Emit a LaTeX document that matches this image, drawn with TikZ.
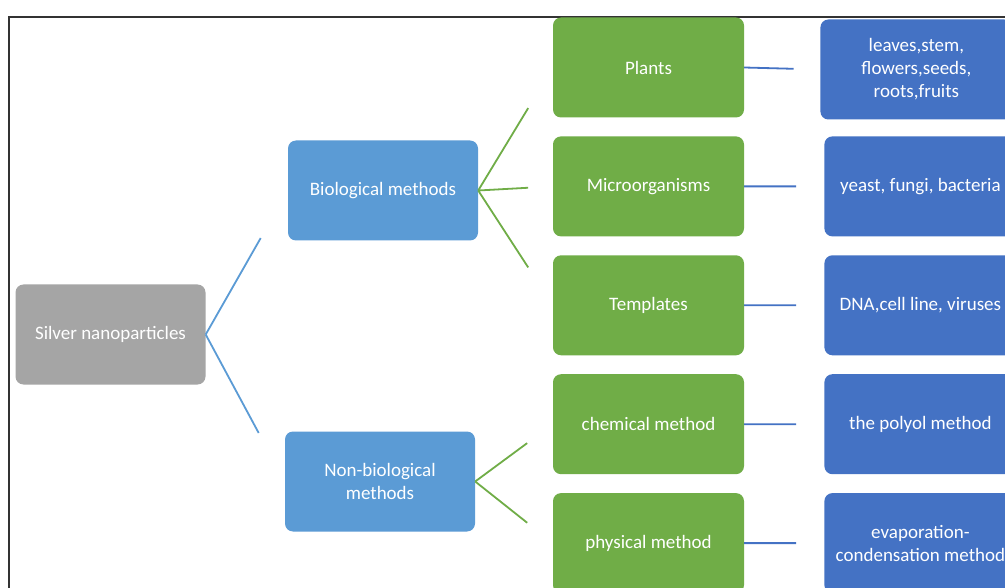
\documentclass[tikz,border=0pt]{standalone}
\usepackage{fontspec}
\setmainfont{Carlito}
\usepackage{xcolor}
\usepackage{tikz}
\usetikzlibrary{positioning, calc}
\definecolor{rootgray}{HTML}{A5A5A5}
\definecolor{midblue}{HTML}{5B9BD5}
\definecolor{leafgreen}{HTML}{70AD47}
\definecolor{deepblue}{HTML}{4472C4}
\tikzstyle{base} = [rectangle, rounded corners=8pt, minimum width=190pt, minimum height=100pt, text centered, align=center, text=white, inner sep=2pt, font=\fontsize{19}{23}\selectfont]
\tikzstyle{root} = [base, fill=rootgray]
\tikzstyle{group} = [base, fill=midblue]
\tikzstyle{method} = [base, fill=leafgreen, minimum width=191pt]
\tikzstyle{example} = [base, fill=deepblue, minimum width=192pt]
\tikzstyle{link} = [draw, line width=1.8pt]

\begin{document}
\begin{tikzpicture}[x=1pt, y=-1pt, node distance=18.5pt]
    \clip (0,0) rectangle (1005,588);
    \fill[white] (0,0) rectangle (1005,588);
    \draw[line width=2pt, black!80] (9,17) rectangle (1030,620);
    % Nodes
    \node [root] (silver) at (110.5,334.5) {Silver nanoparticles};
    \node [group] (bio) at (383,190.5) {Biological methods};
    \node [group] (nonbio) at (380,481.5) {Non-biological\\methods};
    \node [method] (plants) at (648.5,67.5) {Plants};
    \node [method, below=of plants] (micro) {Microorganisms};
    \node [method, below=of micro] (templates) {Templates};
    \node [method, below=of templates] (chemical) {chemical method};
    \node [method, below=of chemical] (physical) {physical method};
    \node [example, right=76pt of plants, yshift=-2pt] (organs) {leaves,stem,\\flowers,seeds,\\roots,fruits};
    \node [example, right=80pt of micro] (microbes) {yeast, fungi, bacteria};
    \node [example, right=80pt of templates] (dna) {DNA,cell line, viruses};
    \node [example, right=80pt of chemical] (polyol) {the polyol method};
    \node [example, right=80pt of physical] (evap) {evaporation-\\condensation method};

    % Edges
    \path [link, midblue] (silver.east) -- ($(silver.east)!0.67!(bio.west)$);
    \path [link, midblue] (silver.east) -- ($(silver.east)!0.67!(nonbio.west)$);
    \path [link, leafgreen] (bio.east) -- ($(bio.east)!0.67!(plants.west)$);
    \path [link, leafgreen] (bio.east) -- ($(bio.east)!0.67!(micro.west)$);
    \path [link, leafgreen] (bio.east) -- ($(bio.east)!0.67!(templates.west)$);
    \path [link, leafgreen] (nonbio.east) -- ($(nonbio.east)!0.67!(chemical.west)$);
    \path [link, leafgreen] (nonbio.east) -- ($(nonbio.east)!0.67!(physical.west)$);
    \path [link, deepblue] (plants.east) -- ($(plants.east)!0.65!(organs.west)$);
    \path [link, deepblue] (micro.east) -- ($(micro.east)!0.65!(microbes.west)$);
    \path [link, deepblue] (templates.east) -- ($(templates.east)!0.65!(dna.west)$);
    \path [link, deepblue] (chemical.east) -- ($(chemical.east)!0.65!(polyol.west)$);
    \path [link, deepblue] (physical.east) -- ($(physical.east)!0.65!(evap.west)$);
\end{tikzpicture}
\end{document}
